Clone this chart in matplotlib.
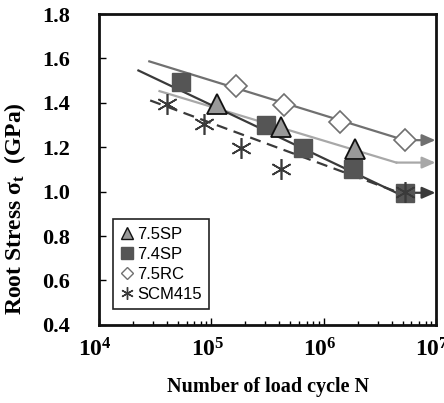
import matplotlib
matplotlib.use("Agg")
import matplotlib.pyplot as plt
import matplotlib.transforms as mtransforms
import numpy as np
from matplotlib.ticker import LogLocator, FixedLocator, NullFormatter

# Data
sp75_N = [1.11e5, 4.13e5, 1.87e6]
sp75_S = [1.396, 1.291, 1.194]
sp74_N = [5.36e4, 3.03e5, 6.46e5, 1.83e6, 5.2e6]
sp74_S = [1.496, 1.299, 1.197, 1.100, 0.995]
rc75_N = [1.64e5, 4.37e5, 1.40e6, 5.2e6]
rc75_S = [1.478, 1.389, 1.314, 1.232]
scm_N = [4.02e4, 8.66e4, 1.84e5, 4.13e5, 5.2e6]
scm_S = [1.396, 1.303, 1.197, 1.100, 1.000]

# S-N fitted lines (start, knee, arrow end)
rc75_line_N = [2.8e4, 5.2e6]
rc75_line_S = [1.587, 1.232]
sp75_line_N = [3.45e4, 4.4e6, 9.8e6]
sp75_line_S = [1.453, 1.131, 1.131]
sp74_line_N = [2.24e4, 4.4e6]
sp74_line_S = [1.546, 0.995]
scm_line_N = [2.85e4, 4.4e6]
scm_line_S = [1.411, 1.0]
arrow_end_N = 9.8e6

x_ticks = [1e4, 1e5, 1e6, 1e7]
x_ticklabels = [r'$10^{4}$', r'$10^{5}$', r'$10^{6}$', r'$10^{7}$']
y_ticks = [0.4, 0.6, 0.8, 1.0, 1.2, 1.4, 1.6, 1.8]
y_ticklabels = ['0.4', '0.6', '0.8', '1.0', '1.2', '1.4', '1.6', '1.8']

plt.rcParams['font.family'] = ['Liberation Serif', 'DejaVu Serif']
plt.rcParams['mathtext.fontset'] = 'custom'
plt.rcParams['mathtext.rm'] = 'Liberation Serif:bold'
plt.rcParams['mathtext.it'] = 'Liberation Serif:bold'
plt.rcParams['mathtext.bf'] = 'Liberation Serif:bold'

fig = plt.figure(figsize=(4.44, 4.03), dpi=100)
ax = fig.add_axes([0.223, 0.194, 0.760, 0.771])

c_rc = '#707070'
c_sp75 = '#a8a8a8'
c_dark = '#3a3a3a'

ax.plot(rc75_line_N, rc75_line_S, color=c_rc, lw=1.6, zorder=2)
ax.plot(sp75_line_N[:2], sp75_line_S[:2], color=c_sp75, lw=1.6, zorder=2)
ax.plot(sp74_line_N, sp74_line_S, color=c_dark, lw=1.6, zorder=2)
ax.plot(scm_line_N, scm_line_S, color=c_dark, lw=1.6, ls=(0, (5, 3)), zorder=2)

def arrow(x0, y0, x1, y1, color):
    ax.annotate('', xy=(x1, y1), xytext=(x0, y0),
                arrowprops=dict(arrowstyle='-|>,head_length=0.8,head_width=0.35', color=color, lw=1.6,
                                shrinkA=0, shrinkB=0), zorder=2)

arrow(rc75_N[-1], rc75_S[-1], arrow_end_N, rc75_S[-1], c_rc)
arrow(sp75_line_N[1], sp75_line_S[1], sp75_line_N[2], sp75_line_S[2], c_sp75)
arrow(sp74_N[-1], sp74_S[-1], arrow_end_N, sp74_S[-1], c_dark)

ax.plot(rc75_N, rc75_S, ls='none', marker='D', ms=11, mfc='white', mec=c_rc, mew=1.2, zorder=3)
ax.plot(sp74_N, sp74_S, ls='none', marker='s', ms=13, mfc='#555555', mec='#555555', zorder=3)
ax.plot(sp75_N, sp75_S, ls='none', marker='^', ms=14, mfc='#999999', mec='#111111', mew=1.3, zorder=4)
ax.plot(scm_N, scm_S, ls='none', marker=(6, 2, 0), ms=15, mec=c_dark, mew=1.2, zorder=4)

h1, = ax.plot([], [], ls='none', marker='^', ms=8, mfc='#999999', mec='#111111', mew=1.0)
h2, = ax.plot([], [], ls='none', marker='s', ms=8, mfc='#555555', mec='#555555')
h3, = ax.plot([], [], ls='none', marker='D', ms=6, mfc='white', mec=c_rc, mew=1.0)
h4, = ax.plot([], [], ls='none', marker=(6, 2, 0), ms=9, mec=c_dark, mew=1.0)
leg = ax.legend([h1, h2, h3, h4], ['7.5SP', '7.4SP', '7.5RC', 'SCM415'],
                loc='lower left', bbox_to_anchor=(0.042, 0.05), borderaxespad=0,
                fancybox=False, edgecolor='#222222', framealpha=1,
                handlelength=0.7, handletextpad=0.3, borderpad=0.45, labelspacing=0.3,
                prop={'family': 'Liberation Sans', 'size': 12})
leg.get_frame().set_linewidth(1.2)

ax.set_xscale('log')
ax.set_xlim(1e4, 1e7)
ax.set_ylim(0.4, 1.8)
ax.set_yticks(y_ticks)
ax.set_yticklabels(y_ticklabels, fontweight='bold')
ax.xaxis.set_major_locator(FixedLocator(x_ticks))
ax.xaxis.set_minor_locator(LogLocator(base=10, subs=np.arange(2, 10)))
ax.xaxis.set_minor_formatter(NullFormatter())
ax.set_xticklabels(x_ticklabels)

ax.tick_params(axis='both', which='major', direction='in', length=5, width=1, labelsize=16)
ax.tick_params(axis='y', which='major', pad=21)
ax.tick_params(axis='x', which='minor', direction='in', length=3, width=1)
ax.tick_params(axis='x', which='major', pad=10, labelsize=17)
offset = mtransforms.ScaledTranslation(-3 / 72, 0, fig.dpi_scale_trans)
for lab in ax.get_xticklabels():
    lab.set_transform(lab.get_transform() + offset)
for sp in ax.spines.values():
    sp.set_linewidth(2)
    sp.set_color('#111111')

ax.set_ylabel(r'Root Stress $\sigma_t$  (GPa)', fontsize=17, fontweight='bold', labelpad=10, y=0.375)
ax.set_xlabel('Number of load cycle N', fontsize=14.5, fontweight='bold', labelpad=11)

fig.savefig('out.png', dpi=100)
